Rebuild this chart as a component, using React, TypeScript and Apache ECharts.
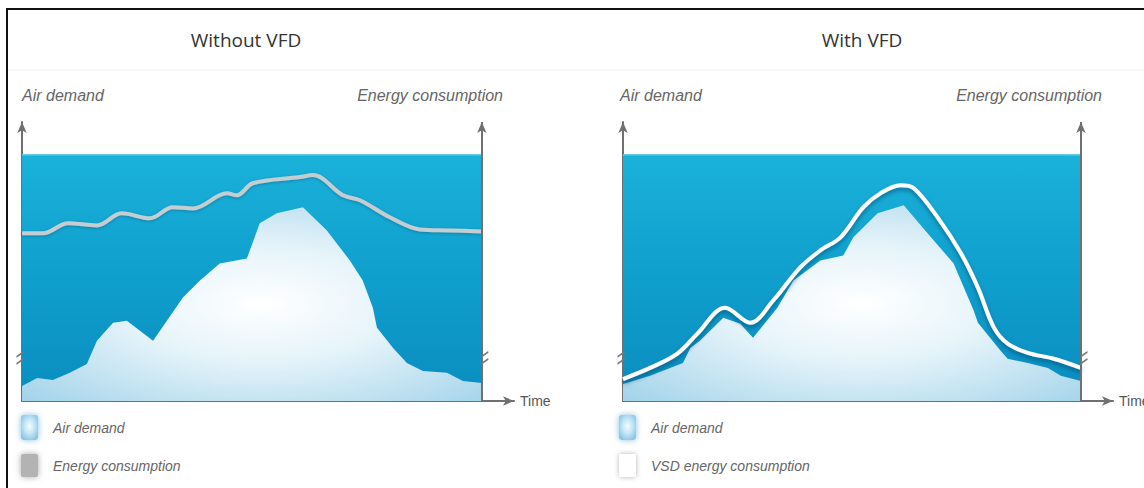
import React, { useEffect, useRef } from "react";
import * as echarts from "echarts";

// ---- Data (time 0..100, level 0..100 inside the blue box) ----
const leftAirDemand: [number, number][] = [
  [0, 6.1], [3.3, 9.3], [6.7, 8.5], [10.4, 11.4], [14.1, 15.0], [16.3, 24.4],
  [19.8, 31.7], [22.8, 32.5], [28.5, 24.4], [35.0, 41.9], [38.7, 48.8],
  [43.0, 55.7], [48.9, 57.7], [51.7, 72.0], [55.4, 76.0], [61.1, 78.5],
  [66.3, 69.1], [71.3, 56.9], [74.1, 48.8], [76.3, 37.8], [77.2, 29.7],
  [80.7, 21.5], [83.7, 15.4], [87.2, 12.2], [92.4, 11.4], [95.9, 8.1], [100, 7.3],
];
const leftEnergy: [number, number][] = [
  [0, 67.9], [4.6, 67.9], [10, 72.0], [16.3, 71.1], [21.7, 76.0], [27.8, 74.0],
  [32.8, 78.5], [37.2, 78.0], [44.6, 84.1], [46.7, 83.3], [50.2, 88.2],
  [60.4, 90.7], [63.3, 91.5], [69.8, 83.3], [73.5, 81.3], [80, 74.4],
  [86.5, 69.5], [93, 69.1], [100, 68.7],
];
const rightAirDemand: [number, number][] = [
  [0, 6.9], [5.9, 10.2], [13.1, 15.4], [14.7, 21.5], [16.8, 24.4], [21.9, 33.7],
  [25.6, 31.3], [28.4, 25.6], [33.7, 37.8], [37.2, 48.8], [43.1, 56.9],
  [48.1, 58.9], [50.3, 66.3], [55.6, 76.0], [61.3, 79.3], [66.5, 67.9],
  [72.2, 55.7], [76.6, 36.6], [77.5, 31.7], [82.5, 20.3], [84.0, 17.1],
  [88.4, 15.4], [92.8, 13.4], [95.6, 10.2], [100, 8.1],
];
const rightVsdEnergy: [number, number][] = [
  [0, 8.9], [5.9, 13.4], [11.8, 19.1], [16.2, 27.2], [22.3, 37.8], [27.8, 31.7],
  [32.8, 40.7], [38.7, 54.1], [43.1, 61.0], [47.5, 66.3], [52.5, 78.5],
  [56.2, 84.1], [60.6, 87.4], [63.5, 86.2], [68.7, 74.4], [73.8, 59.8],
  [77.5, 45.9], [81, 29.7], [84, 23.2], [88.4, 19.5], [94.1, 17.1], [100, 13.4],
];
const panelTitles = ["Without VFD", "With VFD"];
const axisCaptions = ["Air demand", "Energy consumption"];
const leftLegend = ["Air demand", "Energy consumption"];
const rightLegend = ["Air demand", "VSD energy consumption"];
const timeLabel = "Time";
const X_MAX = 107;
const Y_MAX = 113;
const BOX_TOP = 100;
const BREAK_LEVEL = 17.5;

const AXIS_COLOR = "#707070";
const TEXT_COLOR = "#666";

function buildOption() {
  const boxFill = () =>
    new echarts.graphic.LinearGradient(0, 0, 0, 1, [
      { offset: 0, color: "#6fd2ec" },
      { offset: 0.01, color: "#1ab1d9" },
      { offset: 0.5, color: "#0f9fcd" },
      { offset: 1, color: "#0a8cbf" },
    ]);
  const airFill = () =>
    new echarts.graphic.RadialGradient(0.52, 0.5, 0.72, [
      { offset: 0, color: "#ffffff" },
      { offset: 0.4, color: "#e6f4fa" },
      { offset: 1, color: "#a2d3ea" },
    ]);
  const markers = () => ({
    markArea: {
      silent: true,
      itemStyle: { color: boxFill(), opacity: 1, borderWidth: 0 },
      data: [[{ coord: [0, 0] }, { coord: [100, BOX_TOP] }]],
    },
    markLine: {
      silent: true,
      symbol: ["none", "arrow"],
      symbolSize: [7, 11],
      lineStyle: { color: AXIS_COLOR, width: 2, type: "solid" },
      label: { show: false },
      data: [[{ coord: [100, 0] }, { coord: [100, Y_MAX] }]],
    },
    markPoint: {
      silent: true,
      symbol: "path://M0,5 L8,0 M0,12 L8,7",
      symbolSize: [7, 12],
      itemStyle: { color: "rgba(0,0,0,0)", borderColor: "#7a7a7a", borderWidth: 1.4 },
      label: { show: false },
      data: [
        { coord: [0, BREAK_LEVEL], symbolOffset: [-2, 0] },
        { coord: [100, BREAK_LEVEL], symbolOffset: [3, 0] },
      ],
    },
  });

  const xAxisBase = (gridIndex: number) => ({
    gridIndex,
    type: "value",
    min: 0,
    max: X_MAX,
    axisLine: {
      show: true,
      symbol: ["none", "arrow"],
      symbolSize: [7, 11],
      lineStyle: { color: AXIS_COLOR, width: 2 },
    },
    axisTick: { show: false },
    axisLabel: { show: false },
    splitLine: { show: false },
    name: timeLabel,
    nameLocation: "end",
    nameGap: 6,
    nameTextStyle: {
      color: "#555",
      fontSize: 14,
      fontFamily: "'Liberation Sans', Arial, sans-serif",
      verticalAlign: "middle",
    },
  });
  const yAxisBase = (gridIndex: number) => ({
    gridIndex,
    type: "value",
    min: 0,
    max: Y_MAX,
    axisLine: {
      show: true,
      symbol: ["none", "arrow"],
      symbolSize: [7, 11],
      lineStyle: { color: AXIS_COLOR, width: 2 },
    },
    axisTick: { show: false },
    axisLabel: { show: false },
    splitLine: { show: false },
  });

  const capStyle = {
    fill: TEXT_COLOR,
    fontSize: 16,
    fontStyle: "italic",
    fontFamily: "'Liberation Sans', Arial, sans-serif",
    verticalAlign: "middle",
  };
  const legStyle = {
    fill: TEXT_COLOR,
    fontSize: 14,
    fontStyle: "italic",
    fontFamily: "'Liberation Sans', Arial, sans-serif",
    verticalAlign: "middle",
  };
  const titleStyle = {
    fill: "#333",
    fontSize: 19,
    fontFamily: "'Open Sans', 'Noto Sans', sans-serif",
    align: "center",
    verticalAlign: "middle",
  };

  const legendIconAir = (x: number) => ({
    type: "rect",
    shape: { x, y: 415, width: 17, height: 25, r: 3 },
    style: {
      fill: new echarts.graphic.RadialGradient(0.5, 0.45, 0.6, [
        { offset: 0, color: "#f4fbff" },
        { offset: 0.5, color: "#c4e6f6" },
        { offset: 1, color: "#8cc6e2" },
      ]),
      shadowBlur: 6,
      shadowColor: "rgba(110,180,215,0.8)",
    },
  });

  return {
    animation: false,
    backgroundColor: "#ffffff",
    grid: [
      { left: 22, top: 122, width: 492, height: 279, outerBoundsMode: "none", containLabel: false },
      { left: 623, top: 122, width: 490, height: 279, outerBoundsMode: "none", containLabel: false },
    ],
    xAxis: [xAxisBase(0), xAxisBase(1)],
    yAxis: [yAxisBase(0), yAxisBase(1)],
    series: [
      {
        name: "Air demand",
        type: "line",
        xAxisIndex: 0,
        yAxisIndex: 0,
        data: leftAirDemand,
        symbol: "none",
        lineStyle: { width: 0, opacity: 0 },
        areaStyle: { color: airFill(), opacity: 1 },
        z: 2,
        ...markers(),
      },
      {
        name: "Energy consumption",
        type: "line",
        xAxisIndex: 0,
        yAxisIndex: 0,
        data: leftEnergy,
        symbol: "none",
        smooth: 0.35,
        lineStyle: {
          color: "#c4ced2",
          width: 4,
          shadowColor: "rgba(0,50,80,0.35)",
          shadowBlur: 3,
          shadowOffsetY: 1,
        },
        z: 3,
      },
      {
        name: "Air demand",
        type: "line",
        xAxisIndex: 1,
        yAxisIndex: 1,
        data: rightAirDemand,
        symbol: "none",
        lineStyle: { width: 0, opacity: 0 },
        areaStyle: { color: airFill(), opacity: 1 },
        z: 2,
        ...markers(),
      },
      {
        name: "VSD energy consumption",
        type: "line",
        xAxisIndex: 1,
        yAxisIndex: 1,
        data: rightVsdEnergy,
        symbol: "none",
        smooth: 0.35,
        lineStyle: {
          color: "#ffffff",
          width: 4,
          shadowColor: "rgba(0,60,100,0.55)",
          shadowBlur: 4,
          shadowOffsetY: 3,
        },
        z: 3,
      },
    ],
    graphic: [
      {
        type: "rect",
        silent: true,
        shape: { x: 7, y: 9, width: 1160, height: 500 },
        style: { fill: "none", stroke: "#111", lineWidth: 2 },
      },
      {
        type: "line",
        silent: true,
        shape: { x1: 8, y1: 70, x2: 1144, y2: 70 },
        style: { stroke: "#f0f0f0", lineWidth: 1 },
      },
      { type: "text", x: 246, y: 40, style: { text: panelTitles[0], ...titleStyle } },
      { type: "text", x: 862, y: 40, style: { text: panelTitles[1], ...titleStyle } },
      { type: "text", x: 22, y: 95, style: { text: axisCaptions[0], ...capStyle, align: "left" } },
      { type: "text", x: 503, y: 95, style: { text: axisCaptions[1], ...capStyle, align: "right" } },
      { type: "text", x: 620, y: 95, style: { text: axisCaptions[0], ...capStyle, align: "left" } },
      { type: "text", x: 1102, y: 95, style: { text: axisCaptions[1], ...capStyle, align: "right" } },
      legendIconAir(21),
      {
        type: "rect",
        shape: { x: 21, y: 454, width: 17, height: 23, r: 2 },
        style: { fill: "#b3b3b3", shadowBlur: 6, shadowColor: "rgba(160,160,160,0.9)" },
      },
      { type: "text", x: 53, y: 428, style: { text: leftLegend[0], ...legStyle } },
      { type: "text", x: 53, y: 466, style: { text: leftLegend[1], ...legStyle } },
      legendIconAir(619),
      {
        type: "rect",
        shape: { x: 619, y: 454, width: 17, height: 23, r: 2 },
        style: { fill: "#ffffff", shadowBlur: 5, shadowColor: "rgba(0,0,0,0.3)" },
      },
      { type: "text", x: 651, y: 428, style: { text: rightLegend[0], ...legStyle } },
      { type: "text", x: 651, y: 466, style: { text: rightLegend[1], ...legStyle } },
    ],
  };
}

export default function App() {
  const ref = useRef<HTMLDivElement>(null);
  useEffect(() => {
    if (!ref.current) return;
    const chart = echarts.init(ref.current, undefined, { renderer: "svg" });
    chart.setOption(buildOption() as any);
    return () => chart.dispose();
  }, []);
  return (
    <div
      ref={ref}
      style={{ position: "absolute", left: 0, top: 0, width: 1144, height: 488, background: "#fff", overflow: "hidden" }}
    />
  );
}
